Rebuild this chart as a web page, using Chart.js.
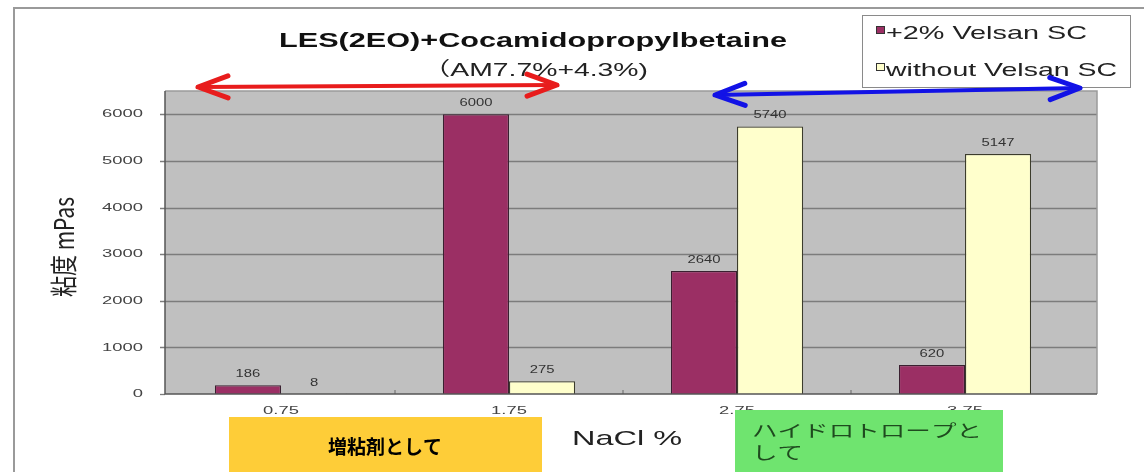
<!DOCTYPE html>
<html>
<head>
<meta charset="utf-8">
<script src="https://cdn.jsdelivr.net/npm/chart.js@4"></script>
<style>
  html, body { margin: 0; padding: 0; background: #fff; }
  canvas { display: block; }
</style>
</head>
<body>
<canvas id="myChart" width="1144" height="472"></canvas>
<script>
// data
const categories = ['0.75', '1.75', '2.75', '3.75'];
const seriesNames = ['+2% Velsan SC', 'without Velsan SC'];
const withVelsan = [186, 6000, 2640, 620];
const withoutVelsan = [8, 275, 5740, 5147];
const yTicks = [0, 1000, 2000, 3000, 4000, 5000, 6000];

const SANS = '"Liberation Sans", "Noto Sans CJK JP", sans-serif';
const CJK = '"Noto Sans CJK JP", sans-serif';

// draw text, optionally stretched sideways (the reference is stretched wide)
function txt(ctx, s, x, y, o) {
  ctx.save();
  ctx.font = o.font;
  ctx.fillStyle = o.color || '#000';
  ctx.textAlign = o.align || 'left';
  ctx.textBaseline = o.base || 'alphabetic';
  let sx = o.sx || 1;
  if (o.width) sx = o.width / ctx.measureText(s).width;
  ctx.translate(x, y);
  ctx.scale(sx, 1);
  ctx.fillText(s, 0, 0);
  ctx.restore();
}

function arrow(ctx, x1, y1, x2, y2, color) {
  const dx = x2 - x1, dy = y2 - y1, len = Math.hypot(dx, dy);
  const ux = dx / len, uy = dy / len, nx = -uy, ny = ux;
  const hl = 30, hw = 11;
  ctx.save();
  ctx.strokeStyle = color;
  ctx.lineCap = 'round';
  ctx.lineJoin = 'round';
  ctx.lineWidth = 4;
  ctx.beginPath();
  ctx.moveTo(x1, y1);
  ctx.lineTo(x2, y2);
  ctx.stroke();
  ctx.lineWidth = 5;
  ctx.beginPath();
  ctx.moveTo(x1 + ux * hl + nx * hw, y1 + uy * hl + ny * hw);
  ctx.lineTo(x1, y1);
  ctx.lineTo(x1 + ux * hl - nx * hw, y1 + uy * hl - ny * hw);
  ctx.moveTo(x2 - ux * hl + nx * hw, y2 - uy * hl + ny * hw);
  ctx.lineTo(x2, y2);
  ctx.lineTo(x2 - ux * hl - nx * hw, y2 - uy * hl - ny * hw);
  ctx.stroke();
  ctx.restore();
}

const decor = {
  id: 'decor',
  beforeDatasetsDraw(chart) {
    const { ctx, chartArea: a, scales: { x, y } } = chart;
    const L = a.left - 2, R = 1097, T = a.top, B = a.bottom;
    ctx.save();
    ctx.fillStyle = '#c0c0c0';
    ctx.fillRect(L, T, R - L, B - T);
    ctx.strokeStyle = '#7c7c7c';
    ctx.lineWidth = 1.3;
    yTicks.forEach(v => {
      const py = Math.round(y.getPixelForValue(v)) + 0.5;
      ctx.beginPath();
      ctx.moveTo(L - 5, py);
      ctx.lineTo(v > 0 ? R : L, py);
      ctx.stroke();
    });
    // small category ticks
    ctx.strokeStyle = '#666';
    ctx.lineWidth = 1;
    for (let i = 1; i < categories.length; i++) {
      const px = (x.getPixelForValue(i - 1) + x.getPixelForValue(i)) / 2;
      ctx.beginPath();
      ctx.moveTo(px, B);
      ctx.lineTo(px, B - 4);
      ctx.stroke();
    }
    ctx.restore();
  },
  afterDatasetsDraw(chart) {
    const { ctx, chartArea: a, scales: { x, y } } = chart;
    const L = a.left - 2, R = 1097, T = a.top, B = a.bottom;
    ctx.save();
    ctx.lineWidth = 1.5;
    ctx.strokeStyle = '#9a9a9a';
    ctx.beginPath();
    ctx.moveTo(L, T); ctx.lineTo(R, T); ctx.lineTo(R, B);
    ctx.stroke();
    ctx.strokeStyle = '#555';
    ctx.beginPath();
    ctx.moveTo(L, T); ctx.lineTo(L, B); ctx.lineTo(R, B);
    ctx.stroke();
    ctx.restore();

    // value labels
    chart.data.datasets.forEach((ds, di) => {
      chart.getDatasetMeta(di).data.forEach((bar, i) => {
        txt(ctx, String(ds.data[i]), bar.x, bar.y - 8,
          { font: '11px ' + SANS, sx: 1.35, align: 'center', color: '#333' });
      });
    });

    // tick labels
    yTicks.forEach(v => {
      txt(ctx, String(v), 143, y.getPixelForValue(v),
        { font: '11.5px ' + SANS, sx: 1.6, align: 'right', base: 'middle', color: '#444' });
    });
    categories.forEach((c, i) => {
      txt(ctx, c, x.getPixelForValue(i), 411,
        { font: '11.5px ' + SANS, sx: 1.6, align: 'center', base: 'middle', color: '#444' });
    });
  },
  afterDraw(chart) {
    const { ctx } = chart;
    // outer frame
    ctx.save();
    ctx.strokeStyle = '#9a9a9a';
    ctx.lineWidth = 2;
    ctx.beginPath();
    ctx.moveTo(14, 472); ctx.lineTo(14, 8); ctx.lineTo(1144, 8);
    ctx.stroke();
    ctx.restore();

    // titles
    txt(ctx, 'LES(2EO)+Cocamidopropylbetaine', 533, 47,
      { font: 'bold 21px ' + SANS, width: 508, align: 'center', color: '#111' });
    txt(ctx, '（AM7.7%+4.3%)', 535, 76,
      { font: '19px ' + SANS, width: 226, align: 'center', color: '#222' });

    // axis titles
    txt(ctx, 'NaCl %', 572, 445, { font: '21px ' + SANS, width: 110, color: '#222' });
    ctx.save();
    ctx.translate(64, 247);
    ctx.rotate(-Math.PI / 2);
    ctx.scale(1, 1.45);
    ctx.font = '19px ' + CJK;
    ctx.textAlign = 'center';
    ctx.textBaseline = 'middle';
    ctx.fillStyle = '#222';
    const t = '粘度 mPas';
    const k = 100 / ctx.measureText(t).width;
    ctx.scale(k, 1);
    ctx.fillText(t, 0, 0);
    ctx.restore();

    // legend
    ctx.save();
    ctx.fillStyle = '#fff';
    ctx.fillRect(862, 15, 268, 72);
    ctx.strokeStyle = '#8a8a8a';
    ctx.lineWidth = 1;
    ctx.strokeRect(862.5, 15.5, 268, 72);
    const ys = [39, 76];
    chart.data.datasets.forEach((ds, i) => {
      ctx.fillStyle = ds.backgroundColor;
      ctx.fillRect(876, ys[i] - 13, 9, 8);
      ctx.strokeStyle = '#333';
      ctx.strokeRect(876.5, ys[i] - 12.5, 8, 7);
    });
    ctx.restore();
    txt(ctx, seriesNames[0], 886, ys[0], { font: '19px ' + SANS, width: 201, color: '#222' });
    txt(ctx, seriesNames[1], 886, ys[1], { font: '19px ' + SANS, width: 231, color: '#222' });

    // arrows
    arrow(ctx, 198, 87, 557, 85, '#e81c1c');
    arrow(ctx, 715, 95, 1080, 88, '#1212e6');

    // note boxes
    ctx.save();
    ctx.fillStyle = '#fecd38';
    ctx.fillRect(229, 417, 313, 55);
    ctx.fillStyle = '#6fe46f';
    ctx.fillRect(735, 410, 268, 62);
    ctx.restore();
    txt(ctx, '増粘剤として', 385, 447,
      { font: 'bold 19px ' + CJK, align: 'center', base: 'middle', color: '#000' });
    txt(ctx, 'ハイドロトロープと', 752, 431,
      { font: '17px ' + CJK, width: 230, base: 'middle', color: '#1f4a1f' });
    txt(ctx, 'して', 752, 453,
      { font: '17px ' + CJK, sx: 1.5, base: 'middle', color: '#1f4a1f' });
  }
};

const ctx = document.getElementById('myChart').getContext('2d');

const chart = new Chart(ctx, {
  type: 'bar',
  data: {
    labels: categories,
    datasets: [{
      label: seriesNames[0],
      data: withVelsan,
      backgroundColor: '#9b2f64',
      borderColor: '#3a2030',
      borderWidth: 1.2,
      categoryPercentage: 0.58,
      barPercentage: 1
    }, {
      label: seriesNames[1],
      data: withoutVelsan,
      backgroundColor: '#ffffcc',
      borderColor: '#3c3c2c',
      borderWidth: 1.2,
      categoryPercentage: 0.58,
      barPercentage: 1
    }]
  },
  options: {
    responsive: false,
    animation: false,
    devicePixelRatio: 1,
    layout: { padding: { top: 91, right: 65, bottom: 0, left: 0 } },
    plugins: {
      legend: { display: false },
      title: { display: false },
      tooltip: { enabled: false }
    },
    scales: {
      x: {
        grid: { display: false },
        border: { display: false },
        ticks: { display: false },
        afterFit: s => { s.height = 78; }
      },
      y: {
        min: 0,
        max: 6500,
        grid: { display: false },
        border: { display: false },
        ticks: { display: false },
        afterFit: s => { s.width = 167; }
      }
    }
  },
  plugins: [decor]
});
</script>
</body>
</html>
